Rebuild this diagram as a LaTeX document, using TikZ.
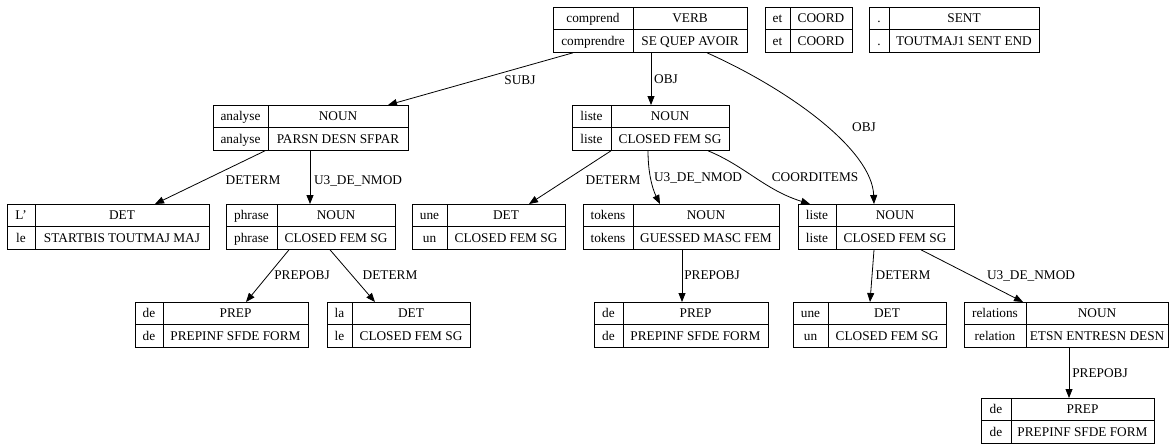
\documentclass[tikz,border=0pt]{standalone}
\usepackage{fontspec}
\setmainfont{Liberation Serif}
\usetikzlibrary{arrows.meta}
\tikzset{
  recbox/.style={draw, line width=0.8pt, inner sep=0pt, anchor=north west, minimum height=45pt},
  cell/.style={inner sep=0pt, text height=8.8pt, text depth=0pt, font=\fontsize{13.3}{15}\selectfont},
  lbl/.style={cell},
  rule/.style={line width=0.8pt},
  dep/.style={line width=0.8pt, -{Triangle[length=9pt,width=7pt]}},
}
\newcommand\recnode[9]{%
  \node[recbox, minimum width={#4-#2}] (#1) at (#2,#5) {};
  \draw[rule] (#3,#5) -- (#3,{#5+45});
  \draw[rule] (#2,{#5+22.5}) -- (#4,{#5+22.5});
  \node[cell] (#1-a) at ({(#2+#3)/2},{#5+11.25}) {#6};
  \node[cell] (#1-b) at ({(#3+#4)/2},{#5+11.25}) {#7};
  \node[cell] (#1-c) at ({(#2+#3)/2},{#5+33.75}) {#8};
  \node[cell] (#1-d) at ({(#3+#4)/2},{#5+33.75}) {#9};
}
\begin{document}
\begin{tikzpicture}[x=1pt,y=-1pt]
\useasboundingbox (0,0) rectangle (1174,445);
% level 0
\recnode{comprend}{553}{633}{747}{7}{comprend}{VERB}{comprendre}{SE QUEP AVOIR}
\recnode{et}{765}{790}{852}{7}{et}{COORD}{et}{COORD}
\recnode{sent}{869}{889}{1039}{7}{.}{SENT}{.}{TOUTMAJ1 SENT END}
% level 1
\recnode{analyse}{213}{268}{408}{105}{analyse}{NOUN}{analyse}{PARSN DESN SFPAR}
\recnode{listeA}{572}{611}{729}{105}{liste}{NOUN}{liste}{CLOSED FEM SG}
% level 2
\recnode{lp}{7}{35}{209}{204}{L'}{DET}{le}{STARTBIS TOUTMAJ MAJ}
\recnode{phrase}{226}{277}{395}{204}{phrase}{NOUN}{phrase}{CLOSED FEM SG}
\recnode{uneA}{412}{447}{565}{204}{une}{DET}{un}{CLOSED FEM SG}
\recnode{tokens}{583}{633}{779}{204}{tokens}{NOUN}{tokens}{GUESSED MASC FEM}
\recnode{listeB}{798}{836}{954}{204}{liste}{NOUN}{liste}{CLOSED FEM SG}
% level 3
\recnode{deA}{135}{163}{308}{302}{de}{PREP}{de}{PREPINF SFDE FORM}
\recnode{la}{327}{352}{470}{302}{la}{DET}{le}{CLOSED FEM SG}
\recnode{deB}{594}{623}{768}{302}{de}{PREP}{de}{PREPINF SFDE FORM}
\recnode{uneB}{793}{828}{946}{302}{une}{DET}{un}{CLOSED FEM SG}
\recnode{relations}{964}{1026}{1168}{302}{relations}{NOUN}{relation}{ETSN ENTRESN DESN}
% level 4
\recnode{deC}{981}{1011}{1154}{398}{de}{PREP}{de}{PREPINF SFDE FORM}

% edges
\draw[dep] ([xshift=20pt]comprend.south west) -- ([xshift=175pt]analyse.north west);
\node[lbl] (l1) at (520,80) {SUBJ};
\draw[dep] ([xshift=98pt]comprend.south west) -- ([xshift=79pt]listeA.north west);
\node[lbl] (l2) at (666,79) {OBJ};
\draw[dep] ([xshift=154pt]comprend.south west) .. controls (790,90) and (872,150) .. ([xshift=76pt]listeB.north west);
\node[lbl] (l3) at (864,127) {OBJ};
\draw[dep] ([xshift=52pt]analyse.south west) -- ([xshift=148pt]lp.north west);
\node[lbl] (l4) at (253,180) {DETERM};
\draw[dep] ([xshift=97pt]analyse.south west) -- ([xshift=84pt]phrase.north west);
\node[lbl] (l5) at (358,180) {U3\_DE\_NMOD};
\draw[dep] ([xshift=63pt]phrase.south west) -- ([xshift=111pt]deA.north west);
\node[lbl] (l6) at (302,275) {PREPOBJ};
\draw[dep] ([xshift=104pt]phrase.south west) -- ([xshift=48pt]la.north west);
\node[lbl] (l7) at (390,275) {DETERM};
\draw[dep] ([xshift=39pt]listeA.south west) -- ([xshift=117pt]uneA.north west);
\node[lbl] (l8) at (613,180) {DETERM};
\draw[dep] ([xshift=76pt]listeA.south west) .. controls (648,172) and (652,188) .. ([xshift=77pt]tokens.north west);
\node[lbl] (l9) at (698,177) {U3\_DE\_NMOD};
\draw[dep] ([xshift=136pt]listeA.south west) .. controls (745,166) and (765,190) .. ([xshift=12pt]listeB.north west);
\node[lbl] (l10) at (815,177) {COORDITEMS};
\draw[dep] ([xshift=99pt]tokens.south west) -- ([xshift=88pt]deB.north west);
\node[lbl] (l11) at (712,275) {PREPOBJ};
\draw[dep] ([xshift=76pt]listeB.south west) -- ([xshift=77pt]uneB.north west);
\node[lbl] (l12) at (903,275) {DETERM};
\draw[dep] ([xshift=123pt]listeB.south west) -- ([xshift=59pt]relations.north west);
\node[lbl] (l13) at (1031,275) {U3\_DE\_NMOD};
\draw[dep] ([xshift=105pt]relations.south west) -- ([xshift=88pt]deC.north west);
\node[lbl] (l14) at (1100,373) {PREPOBJ};
\end{tikzpicture}
\end{document}
